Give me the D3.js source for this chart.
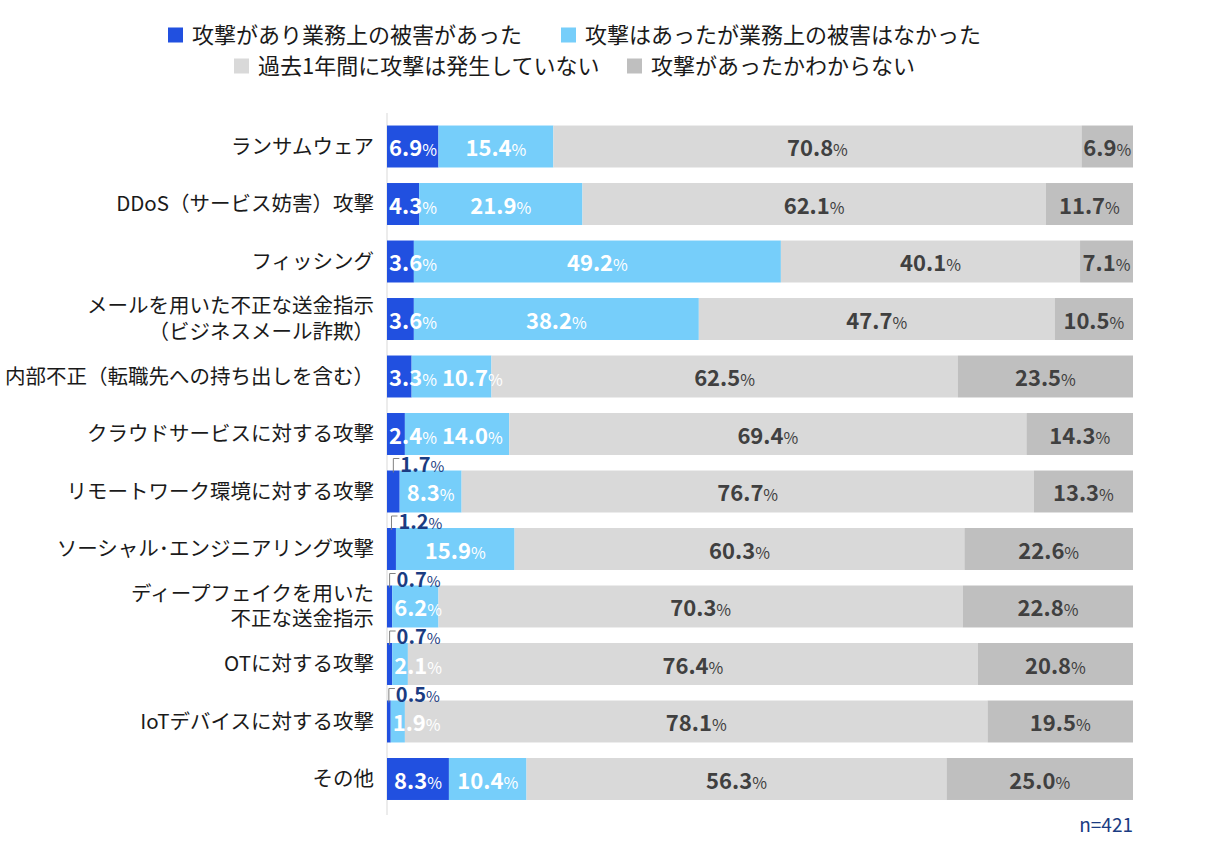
<!DOCTYPE html>
<html>
<head>
<meta charset="utf-8">
<script src="https://cdn.jsdelivr.net/npm/d3@7"></script>
<style>
  body { margin: 0; background: #fff; }
  text { font-family: "Noto Sans CJK JP", "Noto Sans", sans-serif; }
</style>
</head>
<body>
<svg id="mainsvg" width="1216" height="850"></svg>
<script>
// data
const categories = [
  'ランサムウェア',
  'DDoS（サービス妨害）攻撃',
  'フィッシング',
  'メールを用いた不正な送金指示\n（ビジネスメール詐欺）',
  '内部不正（転職先への持ち出しを含む）',
  'クラウドサービスに対する攻撃',
  'リモートワーク環境に対する攻撃',
  'ソーシャル･エンジニアリング攻撃',
  'ディープフェイクを用いた\n不正な送金指示',
  'OTに対する攻撃',
  'IoTデバイスに対する攻撃',
  'その他'
];
const seriesNames = [
  '攻撃があり業務上の被害があった',
  '攻撃はあったが業務上の被害はなかった',
  '過去1年間に攻撃は発生していない',
  '攻撃があったかわからない'
];
const damaged   = [6.9, 4.3, 3.6, 3.6, 3.3, 2.4, 1.7, 1.2, 0.7, 0.7, 0.5, 8.3];
const noDamage  = [15.4, 21.9, 49.2, 38.2, 10.7, 14.0, 8.3, 15.9, 6.2, 2.1, 1.9, 10.4];
const noAttack  = [70.8, 62.1, 40.1, 47.7, 62.5, 69.4, 76.7, 60.3, 70.3, 76.4, 78.1, 56.3];
const unknown   = [6.9, 11.7, 7.1, 10.5, 23.5, 14.3, 13.3, 22.6, 22.8, 20.8, 19.5, 25.0];
const sampleNote = 'n=421';

const colors = ['#2150e0', '#76cefa', '#d9d9d9', '#bfbfbf'];
const labelColors = ['#ffffff', '#ffffff', '#404040', '#404040'];
const navy = '#1b3c82';

const svg = d3.select('#mainsvg');
const plotLeft = 387, plotRight = 1133;

// table for d3.stack
const keys = ['s0', 's1', 's2', 's3'];
const allSeries = [damaged, noDamage, noAttack, unknown];
const table = categories.map((c, i) => {
  const row = { cat: c };
  keys.forEach((k, j) => row[k] = allSeries[j][i]);
  return row;
});
const stacked = d3.stack().keys(keys).offset(d3.stackOffsetExpand)(table);

const xScale = d3.scaleLinear().domain([0, 1]).range([plotLeft, plotRight]);
const yScale = d3.scaleBand().domain(categories).range([110, 815.5])
  .paddingInner(0.27).paddingOuter(0.27);

// axis line
svg.append('line')
  .attr('x1', plotLeft).attr('x2', plotLeft)
  .attr('y1', 113).attr('y2', 815)
  .attr('stroke', '#d9d9d9').attr('stroke-width', 1);

// bars
const layers = svg.append('g').selectAll('g').data(stacked).join('g')
  .attr('fill', (d, i) => colors[i]);
layers.selectAll('rect').data(d => d).join('rect')
  .attr('x', d => xScale(d[0]))
  .attr('y', d => yScale(d.data.cat))
  .attr('width', d => xScale(d[1]) - xScale(d[0]))
  .attr('height', yScale.bandwidth());

// category labels via axis
const yAxis = d3.axisLeft(yScale).tickSize(0).tickPadding(13);
const yAxisGroup = svg.append('g')
  .attr('transform', `translate(${plotLeft}, 0)`)
  .call(yAxis);
yAxisGroup.select('.domain').remove();
yAxisGroup.selectAll('.tick text')
  .attr('font-size', '20.5px')
  .attr('fill', '#1a1a1a')
  .attr('font-family', '"Noto Sans CJK JP", sans-serif')
  .each(function(d) {
    const lines = d.split('\n');
    const t = d3.select(this).text(null).attr('dy', null);
    lines.forEach((ln, k) => {
      t.append('tspan')
        .attr('x', -13)
        .attr('dy', k === 0 ? `${0.35 - (lines.length - 1) * 0.62}em` : '1.24em')
        .text(ln);
    });
  });

// value labels
const fmt = d3.format('.1f');
const labelG = svg.append('g');
categories.forEach((cat, i) => {
  const yTop = yScale(cat);
  const yMid = yTop + yScale.bandwidth() / 2;
  let prevRight = -Infinity;
  stacked.forEach((layer, j) => {
    const seg = layer[i];
    const v = allSeries[j][i];
    const x0 = xScale(seg[0]), x1 = xScale(seg[1]);
    const segW = x1 - x0;
    const tiny = j === 0 && v < 2;
    const t = labelG.append('text')
      .attr('font-weight', 'bold')
      .attr('font-size', tiny ? '20px' : '22px');
    t.append('tspan').text(fmt(v));
    t.append('tspan').attr('font-size', tiny ? '15px' : '16px').attr('font-weight', 'normal').text('%');

    if (tiny) {
      // tiny value: label above the bar with a leader
      const cx = (x0 + x1) / 2;
      labelG.append('path')
        .attr('d', `M${cx},${yTop + 2}V${yTop - 12}H${cx + 6}`)
        .attr('fill', 'none').attr('stroke', '#808080').attr('stroke-width', 1);
      t.attr('x', cx + 7).attr('y', yTop - 6).attr('dy', '0.35em')
        .attr('fill', navy).attr('text-anchor', 'start');
      return;
    }
    const w = t.node().getComputedTextLength();
    let left;
    if (j < 2 && w + 4 > segW) left = x0 + 2;
    else left = (x0 + x1) / 2 - w / 2;
    if (left < prevRight + 5) left = prevRight + 5;
    prevRight = left + w;
    t.attr('x', left).attr('y', yMid + 2).attr('dy', '0.35em')
      .attr('fill', labelColors[j]).attr('text-anchor', 'start');
  });
});

// legend
const legendPos = [[168, 35], [561, 35], [234, 66], [627, 66]];
const legend = svg.append('g').selectAll('g').data(seriesNames).join('g')
  .attr('transform', (d, i) => `translate(${legendPos[i][0]}, ${legendPos[i][1]})`);
legend.append('rect')
  .attr('x', 0).attr('y', -7.5).attr('width', 15).attr('height', 15)
  .attr('fill', (d, i) => colors[i]);
legend.append('text')
  .attr('x', 24).attr('dy', '0.35em')
  .attr('font-size', '22px').attr('fill', '#1a1a1a')
  .text(d => d);

// sample size
svg.append('text')
  .attr('x', plotRight).attr('y', 825).attr('dy', '0.35em')
  .attr('text-anchor', 'end')
  .attr('font-size', '19px').attr('fill', navy)
  .text(sampleNote);
</script>
</body>
</html>
